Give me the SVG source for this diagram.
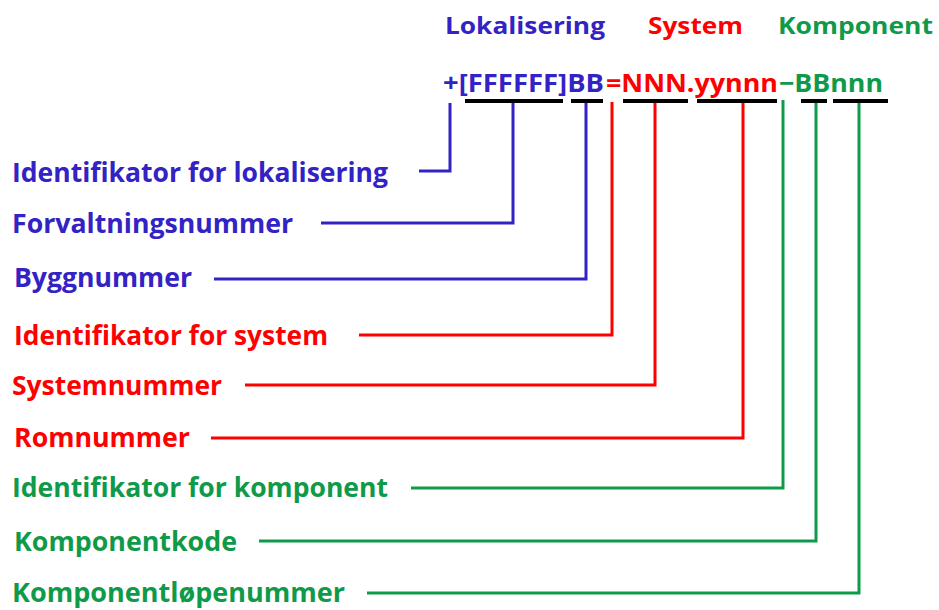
<svg xmlns="http://www.w3.org/2000/svg" width="939" height="610" viewBox="0 0 939 610">
<style>
text{font-family:"Open Sans","Noto Sans","DejaVu Sans",sans-serif;font-weight:700}
.b{fill:#3322c4}.r{fill:#ff0000}.g{fill:#0f9a4a}
.lb{font-size:26px}.t{font-size:23px}.code{font-size:25px}
.cb{stroke:#3322c4}.cr{stroke:#ff0000}.cg{stroke:#0f9a4a}
path{fill:none;stroke-width:3}
.bar{stroke:#000;stroke-width:4}
</style>
<rect width="939" height="610" fill="#fff"/>
<g id="headers">
<text class="t b" x="445" y="34" textLength="160" lengthAdjust="spacingAndGlyphs">Lokalisering</text>
<text class="t r" x="648" y="34" textLength="95" lengthAdjust="spacingAndGlyphs">System</text>
<text class="t g" x="778" y="34" textLength="155" lengthAdjust="spacingAndGlyphs">Komponent</text>
</g>
<g id="code">
<text class="code b" x="443" y="92" textLength="161" lengthAdjust="spacingAndGlyphs">+[FFFFFF]BB</text>
<text class="code r" x="606" y="92" textLength="172" lengthAdjust="spacingAndGlyphs">=NNN.yynnn</text>
<text class="code g" x="779" y="92" textLength="104" lengthAdjust="spacingAndGlyphs">−BBnnn</text>
</g>
<g id="bars">
<line class="bar" x1="465" y1="101" x2="563" y2="101"/>
<line class="bar" x1="571" y1="101" x2="603" y2="101"/>
<line class="bar" x1="623" y1="101" x2="688" y2="101"/>
<line class="bar" x1="697" y1="101" x2="777" y2="101"/>
<line class="bar" x1="801" y1="101" x2="827" y2="101"/>
<line class="bar" x1="833" y1="101" x2="888" y2="101"/>
</g>
<g id="connectors">
<path class="cb" d="M450 103V171H419"/>
<path class="cb" d="M513 103V223H321"/>
<path class="cb" d="M586 103V279H214"/>
<path class="cr" d="M612 102V335H359"/>
<path class="cr" d="M655 103V385H245"/>
<path class="cr" d="M743 103V438H211"/>
<path class="cg" d="M783 100V488H411"/>
<path class="cg" d="M816 103V541H259"/>
<path class="cg" d="M859 103V593H367"/>
</g>
<g id="n1"><text class="lb b" x="12" y="182" textLength="376" lengthAdjust="spacingAndGlyphs">Identifikator for lokalisering</text></g>
<g id="n2"><text class="lb b" x="12" y="233" textLength="281" lengthAdjust="spacingAndGlyphs">Forvaltningsnummer</text></g>
<g id="n3"><text class="lb b" x="14" y="287" textLength="178" lengthAdjust="spacingAndGlyphs">Byggnummer</text></g>
<g id="n4"><text class="lb r" x="14" y="345" textLength="314" lengthAdjust="spacingAndGlyphs">Identifikator for system</text></g>
<g id="n5"><text class="lb r" x="12" y="395" textLength="210" lengthAdjust="spacingAndGlyphs">Systemnummer</text></g>
<g id="n6"><text class="lb r" x="14" y="447" textLength="176" lengthAdjust="spacingAndGlyphs">Romnummer</text></g>
<g id="n7"><text class="lb g" x="12" y="497" textLength="376" lengthAdjust="spacingAndGlyphs">Identifikator for komponent</text></g>
<g id="n8"><text class="lb g" x="14" y="551" textLength="223" lengthAdjust="spacingAndGlyphs">Komponentkode</text></g>
<g id="n9"><text class="lb g" x="12" y="602" textLength="333" lengthAdjust="spacingAndGlyphs">Komponentløpenummer</text></g>
</svg>
